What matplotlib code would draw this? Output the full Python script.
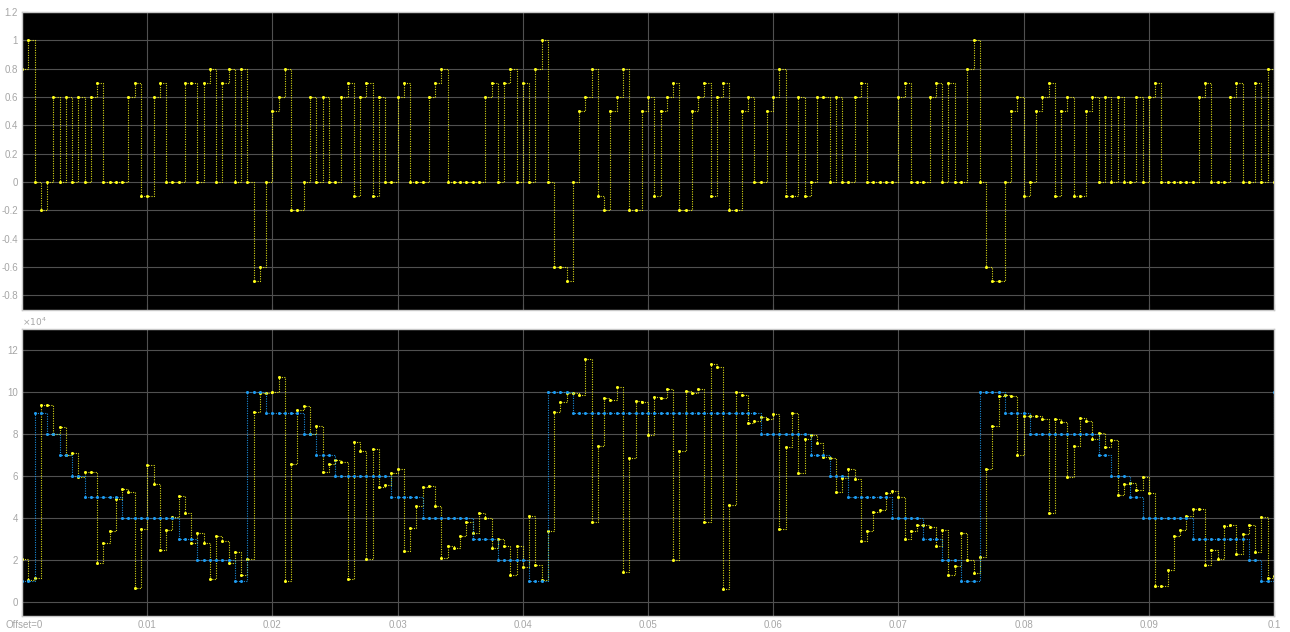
import numpy as np
import matplotlib
matplotlib.use("Agg")
import matplotlib.pyplot as plt
from matplotlib.ticker import MultipleLocator, FixedLocator, FuncFormatter

# Sample period of both scope traces (s)
dt = 0.0005

# Upper trace: quantised control signal
signal_top = [
    0.8, 1.0, 0, -0.2, 0, 0.6, 0, 0.6, 0, 0.6,
    0, 0.6, 0.7, 0, 0, 0, 0, 0.6, 0.7, -0.1,
    -0.1, 0.6, 0.7, 0, 0, 0, 0.7, 0.7, 0, 0.7,
    0.8, 0, 0.7, 0.8, 0, 0.8, 0, -0.7, -0.6, 0,
    0.5, 0.6, 0.8, -0.2, -0.2, 0, 0.6, 0, 0.6, 0,
    0, 0.6, 0.7, -0.1, 0.6, 0.7, -0.1, 0.6, 0, 0,
    0.6, 0.7, 0, 0, 0, 0.6, 0.7, 0.8, 0, 0,
    0, 0, 0, 0, 0.6, 0.7, 0, 0.7, 0.8, 0,
    0.7, 0, 0.8, 1.0, 0, -0.6, -0.6, -0.7, 0, 0.5,
    0.6, 0.8, -0.1, -0.2, 0.5, 0.6, 0.8, -0.2, -0.2, 0.5,
    0.6, -0.1, 0.5, 0.6, 0.7, -0.2, -0.2, 0.5, 0.6, 0.7,
    -0.1, 0.6, 0.7, -0.2, -0.2, 0.5, 0.6, 0, 0, 0.5,
    0.6, 0.8, -0.1, -0.1, 0.6, -0.1, 0, 0.6, 0.6, 0,
    0.6, 0, 0, 0.6, 0.7, 0, 0, 0, 0, 0,
    0.6, 0.7, 0, 0, 0, 0.6, 0.7, 0, 0.7, 0,
    0, 0.8, 1.0, 0, -0.6, -0.7, -0.7, 0, 0.5, 0.6,
    -0.1, 0, 0.5, 0.6, 0.7, -0.1, 0.5, 0.6, -0.1, -0.1,
    0.5, 0.6, 0, 0.6, 0, 0.6, 0, 0, 0.6, 0,
    0.6, 0.7, 0, 0, 0, 0, 0, 0, 0.6, 0.7,
    0, 0, 0, 0.6, 0.7, 0, 0, 0.7, 0, 0.8,
    0,
]

# Lower traces, in units of 1e4
measured_e4 = [
    2.05, 1.05, 1.15, 9.4, 9.4, 8.0, 8.35, 7.0, 7.1, 5.95,
    6.2, 6.2, 1.85, 2.8, 3.4, 4.9, 5.4, 5.25, 0.7, 3.5,
    6.55, 5.65, 2.5, 3.45, 4.05, 5.05, 4.25, 2.8, 3.3, 2.8,
    1.1, 3.15, 2.9, 1.85, 2.4, 1.3, 2.05, 9.05, 9.95, 9.95,
    10.0, 10.7, 1.0, 6.6, 9.15, 9.35, 8.0, 8.4, 6.2, 6.6,
    6.75, 6.7, 1.1, 7.65, 7.2, 2.05, 7.3, 5.5, 5.6, 6.15,
    6.35, 2.45, 3.55, 4.6, 5.5, 5.55, 4.6, 2.1, 2.7, 2.6,
    3.15, 3.8, 3.3, 4.25, 4.0, 2.6, 3.0, 2.7, 1.3, 2.7,
    1.7, 4.1, 1.8, 1.05, 3.4, 9.05, 9.55, 9.95, 9.95, 9.85,
    11.6, 3.8, 7.45, 9.7, 9.65, 10.25, 1.45, 6.85, 9.6, 9.55,
    7.95, 9.75, 9.7, 10.15, 2.0, 7.2, 10.05, 9.95, 10.15, 3.8,
    11.35, 11.2, 0.65, 4.65, 10.0, 9.85, 8.55, 8.65, 8.8, 8.7,
    8.95, 3.5, 7.4, 9.0, 6.15, 7.75, 7.95, 7.6, 6.9, 6.85,
    5.25, 5.9, 6.35, 5.85, 2.9, 3.4, 4.3, 4.4, 5.2, 5.3,
    5.0, 3.0, 3.4, 3.7, 3.7, 3.6, 2.7, 3.45, 1.3, 1.75,
    3.3, 2.0, 1.4, 2.15, 6.35, 8.4, 9.8, 9.85, 9.8, 7.0,
    8.85, 8.85, 8.85, 8.7, 4.25, 8.7, 8.6, 5.95, 7.45, 8.75,
    8.65, 7.75, 8.05, 7.4, 7.7, 5.1, 5.65, 5.7, 5.35, 5.95,
    5.2, 0.8, 0.8, 1.55, 3.15, 3.45, 4.1, 4.45, 4.45, 1.8,
    2.5, 2.05, 3.65, 3.7, 2.3, 3.25, 3.7, 2.4, 4.05, 1.15,
    1.25,
]

reference_e4 = [
    1, 1, 9, 9, 8, 8, 7, 7, 6, 6,
    5, 5, 5, 5, 5, 5, 4, 4, 4, 4,
    4, 4, 4, 4, 4, 3, 3, 3, 2, 2,
    2, 2, 2, 2, 1, 1, 10, 10, 10, 9,
    9, 9, 9, 9, 9, 8, 8, 7, 7, 7,
    6, 6, 6, 6, 6, 6, 6, 6, 6, 5,
    5, 5, 5, 5, 4, 4, 4, 4, 4, 4,
    4, 4, 3, 3, 3, 3, 2, 2, 2, 2,
    2, 1, 1, 1, 10, 10, 10, 10, 9, 9,
    9, 9, 9, 9, 9, 9, 9, 9, 9, 9,
    9, 9, 9, 9, 9, 9, 9, 9, 9, 9,
    9, 9, 9, 9, 9, 9, 9, 9, 8, 8,
    8, 8, 8, 8, 8, 8, 7, 7, 7, 6,
    6, 6, 5, 5, 5, 5, 5, 5, 5, 4,
    4, 4, 4, 4, 3, 3, 3, 2, 2, 2,
    1, 1, 1, 10, 10, 10, 10, 9, 9, 9,
    9, 8, 8, 8, 8, 8, 8, 8, 8, 8,
    8, 8, 7, 7, 6, 6, 6, 5, 5, 4,
    4, 4, 4, 4, 4, 4, 4, 3, 3, 3,
    3, 3, 3, 3, 3, 3, 2, 2, 1, 1,
    10,
]

top_yticks = [-0.8, -0.6, -0.4, -0.2, 0, 0.2, 0.4, 0.6, 0.8, 1, 1.2]
bottom_yticks = [0, 2, 4, 6, 8, 10, 12]
xticks = [0.01, 0.02, 0.03, 0.04, 0.05, 0.06, 0.07, 0.08, 0.09, 0.1]

plt.rcParams["axes.unicode_minus"] = False
plt.rcParams["font.family"] = ["Liberation Sans", "DejaVu Sans"]

YELLOW = "#ffff1a"
BLUE = "#1e9bf0"
GRID = "#505050"
TEXT = "#a6a6a6"
EDGE = "#c8c8c8"

t = np.arange(len(signal_top)) * dt

fig = plt.figure(figsize=(12.9, 6.32), dpi=100, facecolor="white")
ax1 = fig.add_axes([0.0171, 0.5095, 0.9705, 0.4715])
ax2 = fig.add_axes([0.0171, 0.0253, 0.9705, 0.4540])


def style_axes(ax):
    ax.set_facecolor("black")
    for sp in ax.spines.values():
        sp.set_color(EDGE)
        sp.set_linewidth(1.0)
    ax.grid(True, color=GRID, linewidth=0.8)
    ax.set_axisbelow(True)
    ax.tick_params(direction="in", length=4, width=0.8, color=GRID,
                   labelcolor=TEXT, labelsize=7, pad=3)
    ax.set_xlim(0, 0.1)
    ax.xaxis.set_major_locator(FixedLocator([0] + xticks))


style_axes(ax1)
style_axes(ax2)

# Upper scope: single dotted staircase with sample markers
ax1.step(t, signal_top, where="post", color=YELLOW, linestyle=(0, (1, 1.2)),
         linewidth=0.8, alpha=0.85)
ax1.plot(t, signal_top, linestyle="none", marker="o", markersize=2.2,
         color=YELLOW, markeredgewidth=0)
ax1.set_ylim(-0.905, 1.2)
ax1.yaxis.set_major_locator(FixedLocator(top_yticks))
ax1.yaxis.set_major_formatter(FuncFormatter(lambda v, p: f"{v:g}"))
ax1.tick_params(axis="x", labelbottom=False)

# Lower scope: measured value and reference level
scale = 1e4
meas = np.array(measured_e4) * scale
ref = np.array(reference_e4) * scale
ax2.step(t, meas, where="post", color=YELLOW, linestyle=(0, (1, 1.2)),
         linewidth=0.8, alpha=0.85)
ax2.plot(t, meas, linestyle="none", marker="o", markersize=2.2,
         color=YELLOW, markeredgewidth=0)
ax2.step(t, ref, where="post", color=BLUE, linestyle=(0, (1, 1.2)),
         linewidth=0.8, alpha=0.9)
ax2.plot(t, ref, linestyle="none", marker="o", markersize=2.2,
         color=BLUE, markeredgewidth=0)
ax2.set_ylim(-0.65 * scale, 13 * scale)
ax2.yaxis.set_major_locator(FixedLocator([v * scale for v in bottom_yticks]))
ax2.yaxis.set_major_formatter(FuncFormatter(lambda v, p: f"{v / scale:g}"))
ax2.xaxis.set_major_formatter(FuncFormatter(lambda v, p: "" if v == 0 else f"{v:g}"))
ax2.text(0.0, 1.005, r"$\times10^{4}$", transform=ax2.transAxes, ha="left",
         va="bottom", fontsize=6.5, color=TEXT)
fig.text(0.004, 0.003, "Offset=0", ha="left", va="bottom", fontsize=7, color=TEXT)

fig.savefig("out.png", dpi=100, facecolor="white")
